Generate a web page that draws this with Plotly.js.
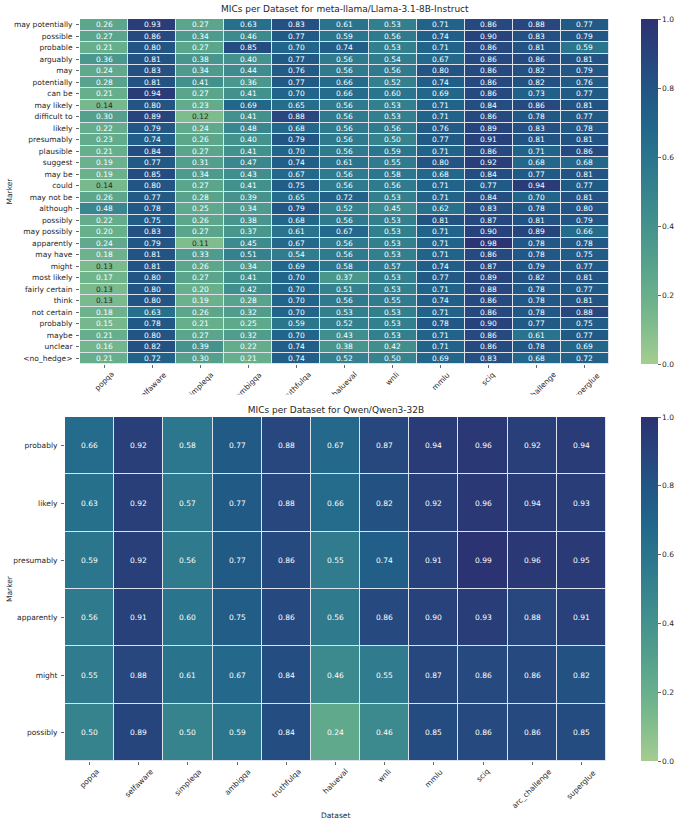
<!DOCTYPE html>
<html><head><meta charset="utf-8">
<script src="https://cdn.plot.ly/plotly-3.0.1.min.js"></script>
<style>html,body{margin:0;padding:0;background:#fff}#chart{width:683px;height:824px}</style>
</head><body><div id="chart"></div>
<script>
// ---------------- DATA ----------------
const datasets = ['popqa','selfaware','simpleqa','ambigqa','truthfulqa','halueval','wnli','mmlu','sciq','arc_challenge','superglue'];

const llamaTitle = 'MICs per Dataset for meta-llama/Llama-3.1-8B-Instruct';
const llamaMarkers = ['may potentially','possible','probable','arguably','may','potentially','can be','may likely','difficult to','likely',
  'presumably','plausible','suggest','may be','could','may not be','although','possibly','may possibly','apparently',
  'may have','might','most likely','fairly certain','think','not certain','probably','maybe','unclear','<no_hedge>'];
const llamaMICs = [
  [0.26,0.93,0.27,0.63,0.83,0.61,0.53,0.71,0.86,0.88,0.77],
  [0.27,0.86,0.34,0.46,0.77,0.59,0.56,0.74,0.90,0.83,0.79],
  [0.21,0.80,0.27,0.85,0.70,0.74,0.53,0.71,0.86,0.81,0.59],
  [0.36,0.81,0.38,0.40,0.77,0.56,0.54,0.67,0.86,0.86,0.81],
  [0.24,0.83,0.34,0.44,0.76,0.56,0.56,0.80,0.86,0.82,0.79],
  [0.28,0.81,0.41,0.36,0.77,0.66,0.52,0.74,0.86,0.82,0.76],
  [0.21,0.94,0.27,0.41,0.70,0.66,0.60,0.69,0.86,0.73,0.77],
  [0.14,0.80,0.23,0.69,0.65,0.56,0.53,0.71,0.84,0.86,0.81],
  [0.30,0.89,0.12,0.41,0.88,0.56,0.53,0.71,0.86,0.78,0.77],
  [0.22,0.79,0.24,0.48,0.68,0.56,0.56,0.76,0.89,0.83,0.78],
  [0.23,0.74,0.26,0.40,0.79,0.56,0.50,0.77,0.91,0.81,0.81],
  [0.21,0.84,0.27,0.41,0.70,0.56,0.59,0.71,0.86,0.71,0.86],
  [0.19,0.77,0.31,0.47,0.74,0.61,0.55,0.80,0.92,0.68,0.68],
  [0.19,0.85,0.34,0.43,0.67,0.56,0.58,0.68,0.84,0.77,0.81],
  [0.14,0.80,0.27,0.41,0.75,0.56,0.56,0.71,0.77,0.94,0.77],
  [0.26,0.77,0.28,0.39,0.65,0.72,0.53,0.71,0.84,0.70,0.81],
  [0.48,0.78,0.25,0.34,0.79,0.52,0.45,0.62,0.83,0.78,0.80],
  [0.22,0.75,0.26,0.38,0.68,0.56,0.53,0.81,0.87,0.81,0.79],
  [0.20,0.83,0.27,0.37,0.61,0.67,0.53,0.71,0.90,0.89,0.66],
  [0.24,0.79,0.11,0.45,0.67,0.56,0.53,0.71,0.98,0.78,0.78],
  [0.18,0.81,0.33,0.51,0.54,0.56,0.53,0.71,0.86,0.78,0.75],
  [0.13,0.81,0.26,0.34,0.69,0.58,0.57,0.74,0.87,0.79,0.77],
  [0.17,0.80,0.27,0.41,0.70,0.37,0.53,0.77,0.89,0.82,0.81],
  [0.13,0.80,0.20,0.42,0.70,0.51,0.53,0.71,0.88,0.78,0.77],
  [0.13,0.80,0.19,0.28,0.70,0.56,0.55,0.74,0.86,0.78,0.81],
  [0.18,0.63,0.26,0.32,0.70,0.53,0.53,0.71,0.86,0.78,0.88],
  [0.15,0.78,0.21,0.25,0.59,0.52,0.53,0.78,0.90,0.77,0.75],
  [0.21,0.80,0.27,0.32,0.70,0.43,0.53,0.71,0.86,0.61,0.77],
  [0.16,0.82,0.39,0.22,0.74,0.38,0.42,0.71,0.86,0.78,0.69],
  [0.21,0.72,0.30,0.21,0.74,0.52,0.50,0.69,0.83,0.68,0.72]
];

const qwenTitle = 'MICs per Dataset for Qwen/Qwen3-32B';
const qwenMarkers = ['probably','likely','presumably','apparently','might','possibly'];
const qwenMICs = [
  [0.66,0.92,0.58,0.77,0.88,0.67,0.87,0.94,0.96,0.92,0.94],
  [0.63,0.92,0.57,0.77,0.88,0.66,0.82,0.92,0.96,0.94,0.93],
  [0.59,0.92,0.56,0.77,0.86,0.55,0.74,0.91,0.99,0.96,0.95],
  [0.56,0.91,0.60,0.75,0.86,0.56,0.86,0.90,0.93,0.88,0.91],
  [0.55,0.88,0.61,0.67,0.84,0.46,0.55,0.87,0.86,0.86,0.82],
  [0.50,0.89,0.50,0.59,0.84,0.24,0.46,0.85,0.86,0.86,0.85]
];

const xTitle = 'Dataset';
const yTitle = 'Marker';
const colorTicks = [0.0,0.2,0.4,0.6,0.8,1.0];

// ---------------- STYLE / LAYOUT ----------------
const W = 683, H = 824;
const px = v => v / W;
const py = v => 1 - v / H;
const FONT = 'DejaVu Sans, Liberation Sans, sans-serif';
const TXT = '#262626';
const crest = [
  [0.0,'rgb(165,205,144)'],[0.1,'rgb(131,190,141)'],[0.2,'rgb(104,175,140)'],
  [0.3,'rgb(84,160,140)'],[0.4,'rgb(68,146,141)'],[0.5,'rgb(54,131,142)'],
  [0.6,'rgb(42,116,141)'],[0.7,'rgb(33,101,138)'],[0.8,'rgb(34,85,132)'],
  [0.9,'rgb(40,67,124)'],[1.0,'rgb(44,49,114)']
];
const esc = s => s.replace(/&/g,'&amp;').replace(/</g,'&lt;').replace(/>/g,'&gt;');

const boxes = [
  {l:80, r:609, t:19, b:364},
  {l:65, r:606, t:417, b:761}
];

function heatTrace(z, rows, k, box) {
  const s = k === 0 ? '' : String(k + 1);
  return {
    type: 'heatmap', z: z, x: datasets, y: rows,
    xaxis: 'x' + s, yaxis: 'y' + s,
    colorscale: crest, zmin: 0, zmax: 1,
    xgap: 1, ygap: 1, hoverinfo: 'skip',
    colorbar: {
      x: px(641), xanchor: 'left', xpad: 0, ypad: 0,
      y: py(box.t), yanchor: 'top', len: (box.b - box.t) / H, lenmode: 'fraction',
      thickness: 17, outlinewidth: 0,
      tickvals: colorTicks, ticktext: colorTicks.map(v => v.toFixed(1)),
      ticks: 'outside', ticklen: 3, tickwidth: 0.7, tickcolor: TXT,
      tickfont: {family: FONT, size: 7.5, color: TXT}
    }
  };
}

function axes(rows, box) {
  const xa = {
    type: 'category', domain: [px(box.l), px(box.r)], range: [-0.5, datasets.length - 0.5],
    showgrid: false, zeroline: false, showline: false, showticklabels: false,
    ticks: 'outside', ticklen: 3, tickwidth: 0.7, tickcolor: TXT, fixedrange: true
  };
  const ya = {
    type: 'category', domain: [py(box.b), py(box.t)], range: [rows.length - 0.5, -0.5],
    showgrid: false, zeroline: false, showline: false,
    tickvals: rows, ticktext: rows.map(esc),
    ticks: 'outside', ticklen: 3, tickwidth: 0.7, tickcolor: TXT, ticklabelstandoff: 2,
    tickfont: {family: FONT, size: 7.5, color: TXT}, fixedrange: true
  };
  return [xa, ya];
}

const [xa1, ya1] = axes(llamaMarkers, boxes[0]);
const [xa2, ya2] = axes(qwenMarkers, boxes[1]);
xa1.anchor = 'y'; ya1.anchor = 'x';
xa2.anchor = 'y2'; ya2.anchor = 'x2';

const annotations = [];
function cellLabels(z, rows, k) {
  const s = k === 0 ? '' : String(k + 1);
  rows.forEach((r, i) => {
    datasets.forEach((d, j) => {
      const v = z[i][j];
      annotations.push({
        xref: 'x' + s, yref: 'y' + s, x: d, y: r, text: v.toFixed(2), showarrow: false,
        font: {family: FONT, size: 7.5, color: v <= 0.145 ? TXT : '#ffffff'}
      });
    });
  });
}
function xLabels(k, box) {
  const s = k === 0 ? '' : String(k + 1);
  datasets.forEach(d => {
    annotations.push({
      xref: 'x' + s, yref: 'paper', x: d, y: py(box.b + 5), text: d, showarrow: false,
      textangle: -45, xanchor: 'center', yanchor: 'top',
      font: {family: FONT, size: 7.5, color: TXT}, borderpad: 0
    });
  });
}
cellLabels(llamaMICs, llamaMarkers, 0);
cellLabels(qwenMICs, qwenMarkers, 1);
xLabels(0, boxes[0]);
xLabels(1, boxes[1]);

// axis titles
annotations.push({xref:'paper', yref:'paper', x: px(9), y: py((boxes[0].t + boxes[0].b) / 2), text: yTitle,
  xanchor: 'center', yanchor: 'middle',
  textangle: -90, showarrow: false, font: {family: FONT, size: 7.5, color: TXT}});
annotations.push({xref:'paper', yref:'paper', x: px(9), y: py((boxes[1].t + boxes[1].b) / 2), text: yTitle,
  xanchor: 'center', yanchor: 'middle',
  textangle: -90, showarrow: false, font: {family: FONT, size: 7.5, color: TXT}});
annotations.push({xref:'paper', yref:'paper', x: px((boxes[1].l + boxes[1].r) / 2), y: py(815), text: xTitle,
  xanchor: 'center', yanchor: 'middle',
  showarrow: false, font: {family: FONT, size: 7.5, color: TXT}});
// chart titles (the lower one also masks the overflow of the upper x labels, like the original)
annotations.push({xref:'paper', yref:'paper', x: px((boxes[0].l + boxes[0].r) / 2), y: py(9), text: llamaTitle,
  xanchor: 'center', yanchor: 'middle',
  showarrow: false, font: {family: FONT, size: 9, color: TXT}});
annotations.push({xref:'paper', yref:'paper', x: px((boxes[1].l + boxes[1].r) / 2), y: py(417), yanchor: 'bottom',
  xanchor: 'center',
  text: qwenTitle, showarrow: false, width: 560, height: 19, valign: 'bottom', bgcolor: '#ffffff', borderpad: 1,
  font: {family: FONT, size: 9, color: TXT}});

const layout = {
  width: W, height: H, margin: {l: 0, r: 0, t: 0, b: 0},
  paper_bgcolor: '#ffffff', plot_bgcolor: '#dde3ec',
  showlegend: false,
  xaxis: xa1, yaxis: ya1, xaxis2: xa2, yaxis2: ya2,
  annotations: annotations,
  font: {family: FONT, size: 7.5, color: TXT}
};

Plotly.newPlot('chart', [
  heatTrace(llamaMICs, llamaMarkers, 0, boxes[0]),
  heatTrace(qwenMICs, qwenMarkers, 1, boxes[1])
], layout, {staticPlot: true, displayModeBar: false});
</script>
</body></html>
